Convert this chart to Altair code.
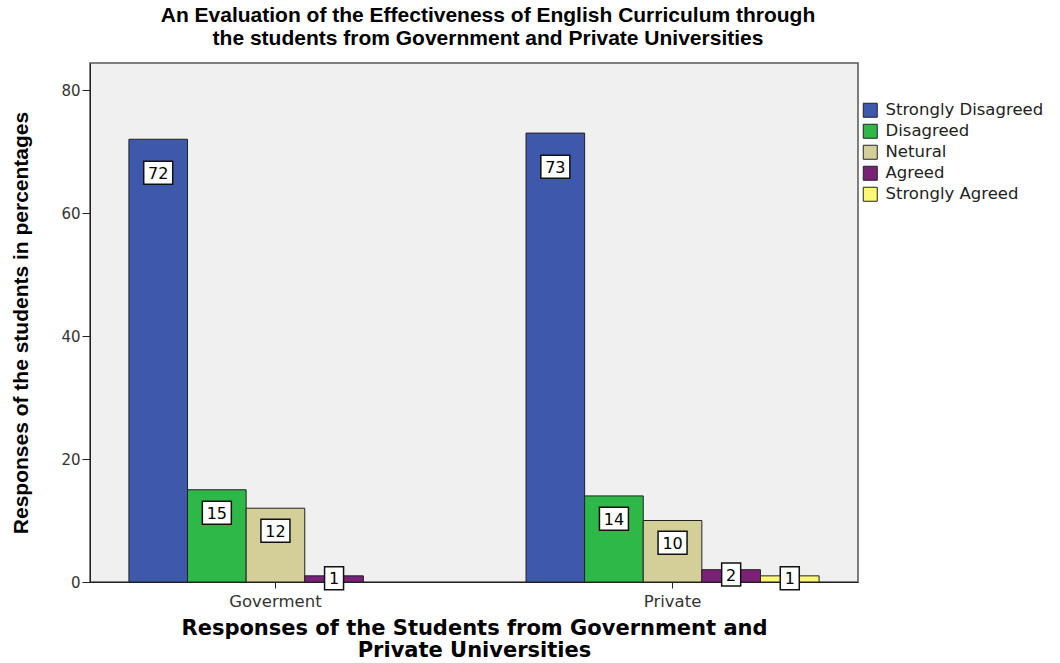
import altair as alt
import pandas as pd

# Survey responses (percent of students) per university type
groups = ["Goverment", "Private"]
responses = ["Strongly Disagreed", "Disagreed", "Netural", "Agreed", "Strongly Agreed"]
government_pct = [72, 15, 12, 1, 0]
private_pct = [73, 14, 10, 2, 1]
colors = ["#3e58ac", "#2eb848", "#d4ce98", "#7b2178", "#fbf873"]

rows = []
for g, vals in zip(groups, [government_pct, private_pct]):
    for r, v in zip(responses, vals):
        if v > 0:
            rows.append({"group": g, "response": r, "pct": v, "digits": str(len(str(v)))})
df = pd.DataFrame(rows)

WIDE = "DejaVu Sans, Verdana, sans-serif"
NARROW = "Liberation Sans, Arial, sans-serif"

x_enc = alt.X(
    "group:N",
    sort=groups,
    scale=alt.Scale(paddingInner=0.262, paddingOuter=0.098),
    axis=alt.Axis(
        title=["Responses of the Students from Government and", "Private Universities"],
        titleFont=WIDE, titleFontSize=21, titleFontWeight="bold", titleColor="black",
        titlePadding=8, titleLineHeight=22,
        labelAngle=0, labelFont=WIDE, labelFontSize=16.5, labelColor="#333",
        labelPadding=5, tickSize=6, tickColor="#222", domainColor="#222",
    ),
)
xo_enc = alt.XOffset("response:N", sort=responses,
                     scale=alt.Scale(domain=responses, paddingInner=0, paddingOuter=0))

bars = alt.Chart(df).mark_bar(stroke="#222", strokeWidth=1).encode(
    x=x_enc,
    xOffset=xo_enc,
    y=alt.Y(
        "pct:Q",
        scale=alt.Scale(domain=[0, 84.4], nice=False),
        axis=alt.Axis(
            title="Responses of the students in percentages",
            titleFont=NARROW, titleFontSize=21, titleFontWeight="bold",
            titleColor="black", titlePadding=29,
            values=[0, 20, 40, 60, 80], grid=False, tickSize=8, tickColor="#222",
            domainColor="#222", labelFont=WIDE, labelFontSize=15, labelColor="#333",
            labelPadding=2,
        ),
    ),
    color=alt.Color(
        "response:N",
        sort=responses,
        scale=alt.Scale(domain=responses, range=colors),
        legend=alt.Legend(
            title=None, orient="none", legendX=772, legendY=39,
            symbolType="square", symbolSize=196, symbolStrokeColor="#222",
            symbolStrokeWidth=1, symbolOpacity=1, labelFont=WIDE, labelFontSize=16.5,
            labelColor="#222", labelOffset=7, rowPadding=2, labelLimit=400,
        ),
    ),
)

labeled = alt.Chart(df).transform_calculate(
    label_y="max(datum.pct * 0.97 - 3.3, datum.pct * 0.6)"
)

boxes = labeled.mark_point(
    filled=True, fill="white", stroke="#111", strokeWidth=1.5, opacity=1, size=841
).encode(
    x=alt.X("group:N", sort=groups),
    xOffset=alt.XOffset("response:N", sort=responses),
    y=alt.Y("label_y:Q"),
    shape=alt.Shape(
        "digits:N",
        scale=alt.Scale(
            domain=["1", "2"],
            range=[
                "M-0.655,-0.793L0.655,-0.793L0.655,0.793L-0.655,0.793Z",
                "M-1,-0.793L1,-0.793L1,0.793L-1,0.793Z",
            ],
        ),
        legend=None,
    ),
)

texts = labeled.mark_text(
    font=WIDE, fontSize=16, color="black", baseline="middle", align="center", dy=1
).encode(
    x=alt.X("group:N", sort=groups),
    xOffset=alt.XOffset("response:N", sort=responses),
    y=alt.Y("label_y:Q"),
    text=alt.Text("pct:Q"),
)

chart = alt.layer(bars, boxes, texts).properties(
    width=768,
    height=519,
    autosize=alt.AutoSizeParams(type="none"),
    padding={"left": 90, "top": 63, "right": 202, "bottom": 81},
    background="white",
    title=alt.TitleParams(
        text=["An Evaluation of the Effectiveness of English Curriculum through",
              "the students from Government and Private Universities"],
        font=NARROW, fontSize=21, fontWeight="bold", color="black", lineHeight=23,
        anchor="middle", dx=14, offset=14,
    ),
).configure_view(
    fill="#f0f0f0", stroke="#555", strokeWidth=1.5
)

chart.save("out.html", embed_options={"renderer": "svg", "actions": False})
